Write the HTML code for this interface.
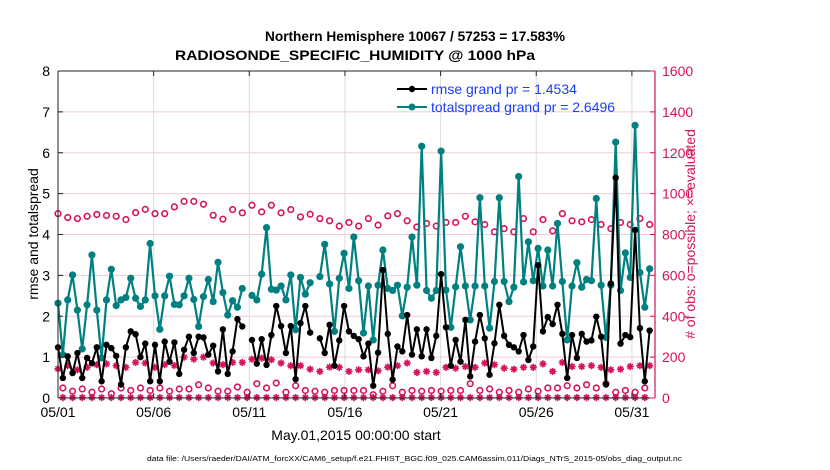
<!DOCTYPE html>
<html><head><meta charset="utf-8">
<style>
body{margin:0;background:#fff;}
svg{display:block;font-family:"Liberation Sans",sans-serif;}
</style></head>
<body>
<svg id="chart" width="830" height="470" viewBox="0 0 830 470" xmlns="http://www.w3.org/2000/svg">
<rect x="0" y="0" width="830" height="470" fill="#fff"/>
<text x="265" y="41" textLength="300" lengthAdjust="spacingAndGlyphs" font-size="14" font-weight="bold">Northern Hemisphere 10067 / 57253 = 17.583%</text>
<text x="175" y="60" textLength="360" lengthAdjust="spacingAndGlyphs" font-size="14" font-weight="bold">RADIOSONDE_SPECIFIC_HUMIDITY @ 1000 hPa</text>
<g id="grid"></g>
<g id="marks"></g>
<g id="axes"></g>
<text transform="translate(38,234) rotate(-90)" text-anchor="middle" font-size="14">rmse and totalspread</text>
<text transform="translate(695,234) rotate(-90)" text-anchor="middle" font-size="14" fill="#d6125c"># of obs: o=possible; ×=evaluated</text>
<text x="356" y="440" text-anchor="middle" font-size="14">May.01,2015 00:00:00 start</text>
<text x="147" y="461" textLength="535" lengthAdjust="spacingAndGlyphs" font-size="7">data file: /Users/raeder/DAI/ATM_forcXX/CAM6_setup/f.e21.FHIST_BGC.f09_025.CAM6assim.011/Diags_NTrS_2015-05/obs_diag_output.nc</text>
<g>
  <line x1="397" y1="89" x2="427" y2="89" stroke="#000" stroke-width="2"/>
  <circle cx="412" cy="89" r="3.2" fill="#000"/>
  <text x="431" y="94" font-size="14" fill="#1a3cff">rmse grand pr = 1.4534</text>
  <line x1="397" y1="107" x2="427" y2="107" stroke="#008080" stroke-width="2"/>
  <circle cx="412" cy="107" r="3.5" fill="#008080"/>
  <text x="431" y="112" font-size="14" fill="#1a3cff">totalspread grand pr = 2.6496</text>
</g>
</svg>
<script>
const xTickLabels = ["05/01","05/06","05/11","05/16","05/21","05/26","05/31"];
const xTickDays = [0,5,10,15,20,25,30];
const yTicks = [0,1,2,3,4,5,6,7,8];
const y2Ticks = [0,200,400,600,800,1000,1200,1400,1600];
const rmse = [1.24,0.49,1.02,0.61,1.10,0.49,0.98,0.85,1.24,0.41,1.30,1.22,1.03,0.33,1.24,1.63,1.56,1.00,1.33,0.41,1.30,0.41,1.38,0.89,1.36,0.59,1.18,1.50,1.10,1.50,1.48,1.06,
1.28,0.65,1.68,0.59,1.14,1.93,1.75,null,1.42,0.84,1.44,0.81,1.54,2.25,1.76,1.10,1.76,0.46,1.83,2.25,1.60,null,1.46,1.10,1.79,0.79,1.41,2.25,1.63,1.52,1.44,
1.02,1.33,0.30,1.11,3.13,1.57,0.45,1.26,1.14,2.03,1.06,1.68,1.02,1.68,0.98,1.52,3.03,1.73,0.79,1.42,0.89,1.91,0.53,1.38,2.03,1.46,0.57,1.34,2.28,1.52,1.30,
1.24,1.14,1.54,0.93,1.26,3.25,1.63,1.98,1.81,2.28,1.57,0.49,1.54,0.98,1.57,1.38,1.41,1.99,1.50,0.33,2.80,5.39,1.33,1.54,1.49,4.11,1.71,0.41,1.65];
const spread = [2.32,1.06,2.40,3.01,2.15,1.20,2.28,3.50,2.15,0.98,2.40,3.15,2.26,2.40,2.46,2.93,2.44,2.24,2.40,3.78,2.50,1.68,2.50,2.98,2.29,2.28,2.50,2.93,2.41,1.75,2.48,2.90,
2.36,3.32,2.58,2.03,2.38,2.22,2.68,null,2.51,2.40,3.03,4.17,2.66,2.64,2.74,2.40,3.01,1.67,2.95,2.54,2.82,null,2.97,3.76,2.79,1.63,2.93,3.54,2.68,3.94,2.87,
1.59,2.74,1.42,2.76,3.62,2.68,2.63,2.76,2.01,2.71,3.94,2.76,6.16,2.63,2.44,2.63,6.04,2.64,1.73,2.72,3.70,2.74,1.91,2.74,4.90,2.74,1.71,2.85,4.90,2.85,2.36,
2.71,5.42,2.84,3.82,2.87,3.66,2.74,3.62,2.74,4.27,2.85,1.42,2.74,3.31,2.71,2.90,2.87,4.88,2.76,1.48,2.76,6.26,2.63,3.55,2.95,6.67,3.07,2.22,3.16];
const possible = [902,49,883,33,878,44,889,28,898,44,893,21,889,49,873,37,907,49,923,37,902,49,902,33,935,44,962,44,962,65,948,49,
894,33,875,33,922,54,906,28,943,70,911,49,943,73,906,28,922,60,886,37,899,33,878,28,867,37,841,37,859,37,841,
37,878,16,846,33,891,60,902,28,867,37,837,33,854,37,841,33,859,37,859,37,889,70,862,37,849,44,813,28,829,37,
813,28,878,44,813,33,873,49,818,49,902,60,867,49,862,65,873,49,849,70,829,28,859,37,849,28,878,49,849];
const evaluated = [143,2,158,2,138,2,150,2,163,2,167,2,158,2,150,2,174,2,171,2,150,2,163,2,159,2,200,2,190,2,200,2,
171,2,163,2,174,2,174,2,190,2,195,2,187,2,171,2,158,2,158,2,141,2,130,2,151,2,150,2,130,2,138,
2,138,2,133,2,151,2,158,2,171,2,125,2,130,2,125,2,150,2,146,2,154,2,150,2,171,2,163,2,146,2,
141,2,150,2,150,2,167,2,130,2,174,2,154,2,154,2,158,2,150,2,138,2,141,2,154,2,158,2,158];

const NS="http://www.w3.org/2000/svg";
const X0=58,X1=655,Y0=398,Y1=71, PINK="#d6125c";
const xs=d=>X0+d*19.13;
const ys=v=>Y0-(v/8)*(Y0-Y1);
const ys2=v=>Y0-(v/1600)*(Y0-Y1);
const dayOf=i=>i*0.2535;
function mk(tag,attrs,parent){const e=document.createElementNS(NS,tag);for(const k in attrs)e.setAttribute(k,attrs[k]);parent.appendChild(e);return e;}
const grid=document.getElementById('grid'),marks=document.getElementById('marks'),axes=document.getElementById('axes');
yTicks.forEach(v=>{if(v>0&&v<8){const l=mk('line',{x1:X0,x2:X1,y1:ys(v),y2:ys(v),stroke:'#f3c8d8','stroke-width':1},grid);

}});
xTickDays.forEach(d=>{if(d>0){const l=mk('line',{x1:xs(d),x2:xs(d),y1:Y1,y2:Y0,stroke:'#dcdcdc','stroke-width':1},grid);

}});
function series(vals,scale,color,w,r,name){
  let d='',pen=false;
  vals.forEach((v,i)=>{if(v===null){pen=false;return;}d+=(pen?'L':'M')+xs(dayOf(i)).toFixed(1)+' '+scale(v).toFixed(1);pen=true;});
  const p=mk('path',{d:d,fill:'none',stroke:color,'stroke-width':w,'stroke-linejoin':'round'},marks);
  
  
  vals.forEach((v,i)=>{if(v===null)return;const c=mk('circle',{cx:xs(dayOf(i)),cy:scale(v),r:r,fill:color},marks);
  
  });
}
possible.forEach((v,i)=>{const c=mk('circle',{cx:xs(dayOf(i)),cy:ys2(v),r:2.8,fill:'none',stroke:PINK,'stroke-width':1.6},marks);

});
evaluated.forEach((v,i)=>{const cx=xs(dayOf(i)),cy=ys2(v),s=3.6;
const g=mk('path',{d:`M${cx-s} ${cy}L${cx+s} ${cy}M${cx} ${cy-s}L${cx} ${cy+s}M${cx-s*0.7} ${cy-s*0.7}L${cx+s*0.7} ${cy+s*0.7}M${cx-s*0.7} ${cy+s*0.7}L${cx+s*0.7} ${cy-s*0.7}`,stroke:PINK,'stroke-width':1.6,fill:'none'},marks);

});
series(spread,ys,'#008080',2.2,3.6,'totalspread');
series(rmse,ys,'#000',2,3.2,'rmse');
mk('line',{x1:X0,x2:X1,y1:Y1,y2:Y1,stroke:'#222','stroke-width':1},axes);
mk('line',{x1:X0,x2:X1,y1:Y0,y2:Y0,stroke:'#222','stroke-width':1},axes);
mk('line',{x1:X0,x2:X0,y1:Y1,y2:Y0,stroke:'#222','stroke-width':1},axes);
mk('line',{x1:X1,x2:X1,y1:Y1,y2:Y0,stroke:PINK,'stroke-width':1.2},axes);
yTicks.forEach(v=>{mk('line',{x1:X0,x2:X0+5,y1:ys(v),y2:ys(v),stroke:'#222'},axes);
const t=mk('text',{x:X0-8,y:ys(v)+5,'text-anchor':'end','font-size':14},axes);t.textContent=v;

});
y2Ticks.forEach(v=>{mk('line',{x1:X1-5,x2:X1,y1:ys2(v),y2:ys2(v),stroke:PINK},axes);
const t=mk('text',{x:X1+7,y:ys2(v)+5,'font-size':14,fill:PINK},axes);t.textContent=v;

});
xTickDays.forEach((d,k)=>{mk('line',{x1:xs(d),x2:xs(d),y1:Y0,y2:Y0-5,stroke:'#222'},axes);
mk('line',{x1:xs(d),x2:xs(d),y1:Y1,y2:Y1+5,stroke:'#222'},axes);
const t=mk('text',{x:xs(d),y:Y0+19,'text-anchor':'middle','font-size':14},axes);t.textContent=xTickLabels[k];

});
</script>
</body></html>
